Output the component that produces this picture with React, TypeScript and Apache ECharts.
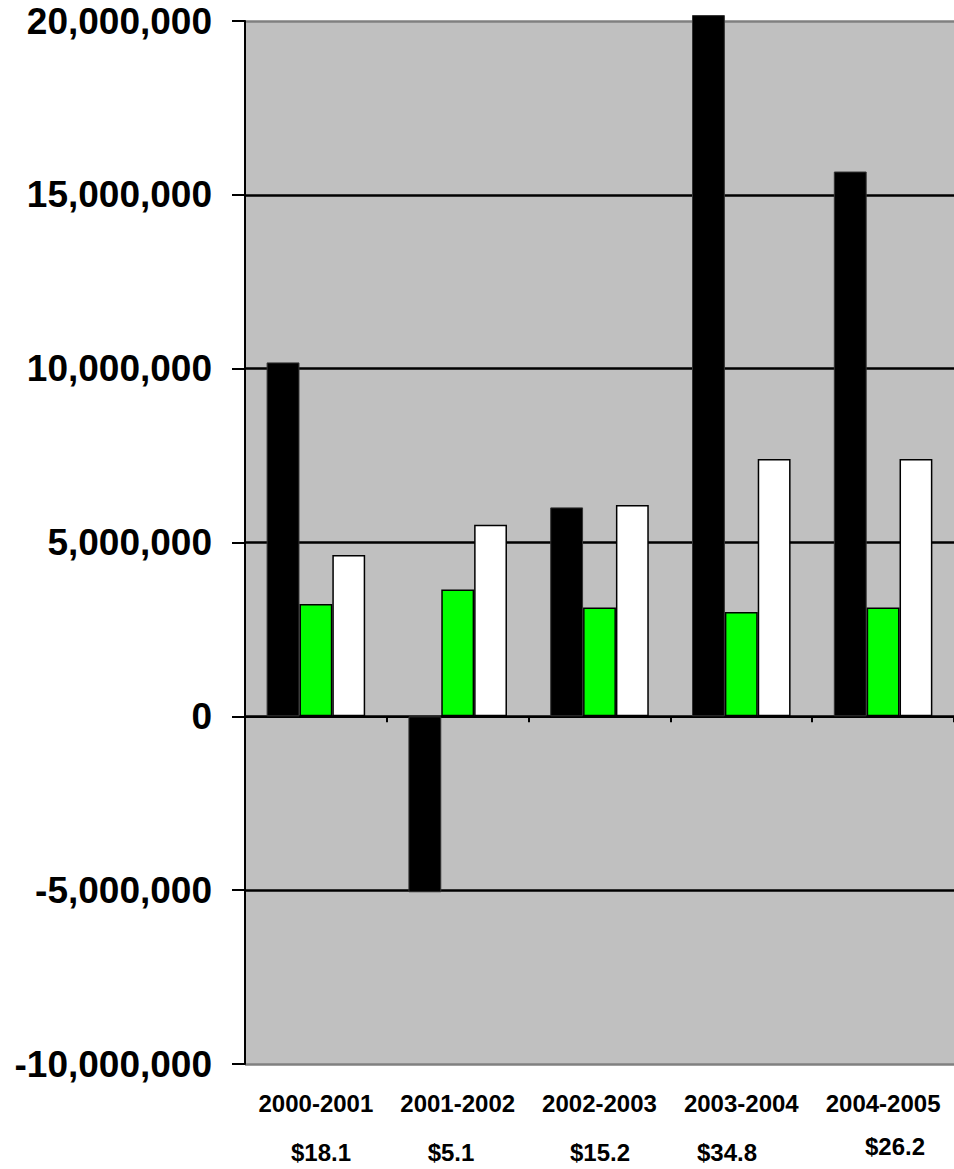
import React, { useEffect, useRef } from "react";
import * as echarts from "echarts";

const categories = ["2000-2001", "2001-2002", "2002-2003", "2003-2004", "2004-2005"];
const blackSeries = [10180000, -5060000, 6010000, 20170000, 15670000];
const greenSeries = [3230000, 3650000, 3130000, 3000000, 3130000];
const whiteSeries = [4640000, 5510000, 6080000, 7400000, 7400000];
const dollarLabels = ["$18.1", "$5.1", "$15.2", "$34.8", "$26.2"];
const yMin = -10000000;
const yMax = 20000000;
const yInterval = 5000000;

// layout only (pixel positions of the dollar labels)
const dollarPos: [number, number][] = [
  [321, 1152],
  [451, 1152],
  [600, 1152],
  [727, 1152],
  [895, 1146],
];

const FONT = "'Liberation Sans', Arial, Helvetica, sans-serif";

export default function App() {
  const ref = useRef<HTMLDivElement>(null);
  useEffect(() => {
    if (!ref.current) return;
    const chart = echarts.init(ref.current, undefined, { renderer: "svg" });
    const barBase = {
      type: "bar" as const,
      xAxisIndex: 0,
      yAxisIndex: 0,
      barGap: "0%",
      barCategoryGap: "30.5%",
      clip: false,
    };
    chart.setOption({
      animation: false,
      backgroundColor: "#ffffff",
      grid: {
        left: 245,
        top: 21,
        width: 711,
        bottom: 105,
        show: true,
        backgroundColor: "#c0c0c0",
        borderWidth: 0,
      },
      xAxis: [
        {
          type: "category",
          data: categories,
          position: "bottom",
          axisLine: { show: false, onZero: false },
          axisTick: { show: false },
          axisLabel: {
            interval: 0,
            color: "#000",
            fontFamily: FONT,
            fontWeight: "bold",
            fontSize: 24,
            margin: 27,
          },
          splitLine: { show: false },
        },
        {
          type: "category",
          data: categories,
          position: "bottom",
          axisLine: { show: true, onZero: true, lineStyle: { color: "#000", width: 2 } },
          axisTick: { show: true, interval: 0, length: 6, lineStyle: { color: "#000", width: 2 } },
          axisLabel: { show: false },
          splitLine: { show: false },
        },
      ],
      yAxis: {
        type: "value",
        min: yMin,
        max: yMax,
        interval: yInterval,
        axisLine: { show: true, lineStyle: { color: "#000", width: 2 } },
        axisTick: { show: true, length: 13, lineStyle: { color: "#000", width: 2 } },
        axisLabel: {
          color: "#000",
          fontFamily: FONT,
          fontWeight: "bold",
          fontSize: 37,
          margin: 33,
          formatter: (v: number) => v.toLocaleString("en-US"),
        },
        splitLine: {
          show: true,
          showMinLine: true,
          showMaxLine: true,
          lineStyle: {
            color: ["#808080", "#000", "#000", "#000", "#000", "#000", "#808080"],
            width: 2.5,
          },
        },
      },
      series: [
        {
          ...barBase,
          name: "black",
          data: blackSeries,
          itemStyle: { color: "#000000", borderColor: "#333", borderWidth: 1 },
        },
        {
          ...barBase,
          name: "green",
          data: greenSeries,
          itemStyle: { color: "#00ff00", borderColor: "#000", borderWidth: 1.5 },
        },
        {
          ...barBase,
          name: "white",
          data: whiteSeries,
          itemStyle: { color: "#ffffff", borderColor: "#000", borderWidth: 1.5 },
        },
      ],
      graphic: dollarLabels.map((t, i) => ({
        type: "text",
        x: dollarPos[i][0],
        y: dollarPos[i][1],
        style: {
          text: t,
          fill: "#000",
          font: `bold 24px ${FONT}`,
          align: "center",
          verticalAlign: "middle",
        },
      })),
    });
    return () => chart.dispose();
  }, []);
  return (
    <div
      ref={ref}
      style={{ position: "fixed", left: 0, top: 0, width: 954, height: 1169, overflow: "hidden" }}
    />
  );
}
